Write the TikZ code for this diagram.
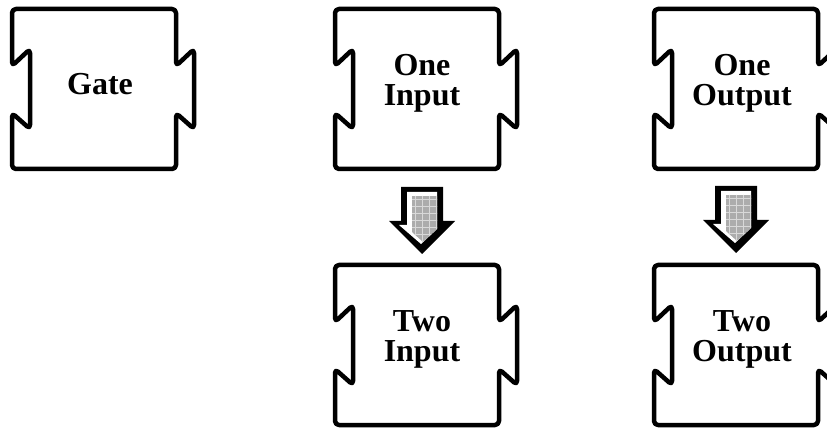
\documentclass[tikz,border=0pt]{standalone}
\usepackage{fontspec}
\setmainfont{Liberation Serif}
\usetikzlibrary{calc,positioning}

\begin{document}
\begin{tikzpicture}[x=1pt,y=1pt,
  frame/.style={rectangle,minimum width=164pt,minimum height=160pt,inner sep=0pt,outer sep=0pt},
  gate text/.style={align=center,font=\fontsize{32}{30}\selectfont\bfseries},
  socket line/.style={line width=4.5pt,rounded corners=4pt,line join=round}]
  \tikzset{
    socket/.pic={
      \draw[socket line] (0,80) -- (82,80) -- (82,23) -- (100,40) -- (100,-40) -- (82,-24)
        -- (82,-80) -- (-82,-80) -- (-82,-24) -- (-64,-40) -- (-64,40) -- (-82,23) -- (-82,80) -- cycle;
    },
    block arrow/.pic={
      \fill[black] (-21,33) -- (21,33) -- (21,-1) -- (33,-1) -- (0,-34) -- (-33,-1) -- (-21,-1) -- cycle;
      \fill[white] (-15,28) -- (15,28) -- (15,-9) -- (-1,-24) -- (-23,-5) -- (-15,-5) -- cycle;
      \begin{scope}
        \clip (-10,24) -- (15,24) -- (15,-9) -- (1,-22) -- (-10,-12) -- cycle;
        \fill[gray!65] (-12,-23) rectangle (16,24);
        \draw[white!70!gray,line width=0.6pt,step=7pt] (-14,-25) grid (18,26);
      \end{scope}
    }
  }
  \useasboundingbox (0,0) rectangle (827,431);

  \node[frame] (gate) at (94,342) {};
  \node[frame,right=159pt of gate] (oneIn) {};
  \node[frame,right=155pt of oneIn] (oneOut) {};
  \node[frame,below=96pt of oneIn] (twoIn) {};
  \node[frame,below=96pt of oneOut] (twoOut) {};

  \foreach \b in {gate,oneIn,oneOut,twoIn,twoOut}
    \pic at (\b) {socket};

  \node[gate text] (gate label) at ([shift={(6,5)}]gate.center) {Gate};
  \node[gate text] (oneIn label) at ([shift={(5,6)}]oneIn.center) {One\\Input};
  \node[gate text] (oneOut label) at ([shift={(6,6)}]oneOut.center) {One\\Output};
  \node[gate text] (twoIn label) at ([shift={(5,6)}]twoIn.center) {Two\\Input};
  \node[gate text] (twoOut label) at ([shift={(6,6)}]twoOut.center) {Two\\Output};

  % widening arrows
  \pic at ($(oneIn.south)!0.5!(twoIn.north)+(5,-3)$) {block arrow};
  \pic at ($(oneOut.south)!0.5!(twoOut.north)+(0,-2)$) {block arrow};
\end{tikzpicture}
\end{document}
